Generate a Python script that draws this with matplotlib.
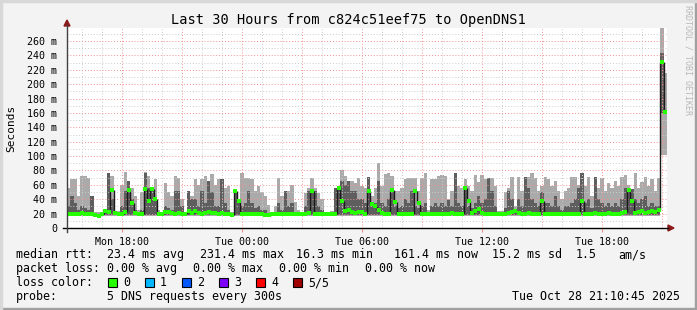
import numpy as np
import matplotlib
matplotlib.use('Agg')
import matplotlib.pyplot as plt
from matplotlib.patches import Rectangle, Polygon
from matplotlib.lines import Line2D

# ---- data (ms), 10 minute bins, first bin starts Mon ~15:14 ----
t0 = 15.235          # hours since Mon 00:00 at left edge
step_h = 1.0 / 6     # 10 minutes

smoke_hi = [55, 68, 68, 45, 72, 72, 70, 45, 22, 22, 22, 25, 75, 72, 22, 24, 60, 78, 65, 55,
            45, 25, 50, 78, 72, 55, 68, 25, 22, 62, 50, 45, 72, 70, 40, 22, 50, 45, 68, 60,
            68, 72, 62, 75, 60,
            68, 68, 55, 58, 22, 52, 40, 76, 70, 70, 68, 52, 58, 50, 45, 32, 22, 30, 69, 45,
            52, 52, 60, 36, 25, 22, 48, 55, 69, 55, 48, 40, 22, 22, 24, 55, 55, 80, 72, 66,
            65, 62, 70, 58, 55,
            70, 45, 55, 90, 58, 75, 76, 72, 52, 52, 55, 68, 70, 70, 70, 52, 70, 76, 25, 68,
            68, 73, 74, 72, 40, 52, 76, 58, 55, 68, 58, 52, 74, 64, 74, 68, 70, 69, 58, 24,
            24, 50, 55, 71, 30,
            71, 52, 60, 71, 76, 69, 52, 58, 71, 68, 58, 65, 52, 40, 52, 55, 71, 71, 60, 76,
            58, 71, 45, 71, 55, 69, 52, 62, 55, 66, 58, 71, 74, 60, 52, 76, 55, 64, 71, 58,
            68, 52, 70, 300, 215]

smoke_mid = [30, 45, 35, 25, 30, 28, 25, 44, 20, 20, 20, 22, 76, 40, 20, 20, 30, 52, 65, 40,
             25, 20, 25, 77, 55, 54, 40, 20, 20, 30, 28, 25, 52, 52, 30, 20, 52, 40, 40, 30,
             52, 35, 66, 50, 30,
             30, 68, 35, 25, 20, 52, 38, 30, 35, 52, 35, 28, 30, 25, 25, 20, 20, 20, 35, 25,
             52, 30, 35, 22, 20, 20, 30, 52, 52, 52, 30, 25, 20, 20, 20, 55, 55, 66, 60, 66,
             52, 52, 40, 40, 35,
             71, 30, 35, 66, 35, 30, 40, 52, 30, 28, 30, 40, 35, 52, 30, 28, 30, 35, 20, 30,
             35, 30, 35, 30, 39, 30, 76, 35, 30, 58, 30, 28, 35, 45, 35, 40, 69, 52, 30, 20,
             20, 28, 52, 40, 22,
             40, 30, 71, 55, 40, 35, 30, 50, 35, 35, 30, 45, 30, 25, 30, 30, 35, 40, 55, 76,
             35, 40, 28, 71, 40, 35, 30, 35, 30, 35, 30, 40, 55, 55, 54, 40, 35, 40, 45, 30,
             35, 30, 30, 243, 101]

median = [20, 19, 20, 20, 21, 20, 19, 20, 18, 17, 19, 24, 22, 53, 21, 19, 20, 22, 53, 35,
          21, 20, 20, 54, 37, 54, 41, 20, 20, 22, 22, 21, 20, 21, 20, 20, 24, 21, 23, 21,
          20, 21, 22, 21, 21,
          20, 21, 20, 19, 18, 52, 37, 20, 19, 20, 19, 20, 20, 19, 18, 18, 19, 20, 20, 19,
          20, 20, 20, 20, 19, 20, 20, 21, 52, 20, 19, 20, 20, 20, 19, 20, 55, 37, 23, 25,
          22, 21, 22, 22, 20,
          52, 33, 31, 25, 21, 20, 20, 53, 36, 20, 19, 20, 19, 20, 52, 35, 20, 20, 19, 20,
          20, 20, 20, 20, 20, 21, 20, 20, 20, 55, 37, 21, 23, 27, 21, 20, 19, 19, 20, 20,
          19, 20, 21, 22, 23,
          21, 20, 20, 21, 20, 20, 20, 37, 20, 19, 20, 19, 20, 20, 20, 20, 19, 20, 20, 38,
          20, 20, 20, 21, 20, 20, 20, 21, 20, 20, 20, 21, 22, 53, 38, 21, 22, 23, 21, 22,
          23, 22, 25, 231, 161.4]

smoke_lo = [16] * 178 + [101, 101]
smoke_mid_lo = [18] * 178 + [160, 101]

y_ticks = [0, 20, 40, 60, 80, 100, 120, 140, 160, 180, 200, 220, 240, 260]
x_ticks = [18, 24, 30, 36, 42]
x_labels = ['Mon 18:00', 'Tue 00:00', 'Tue 06:00', 'Tue 12:00', 'Tue 18:00']

loss_labels = ['0', '1', '2', '3', '4', '5/5']
loss_colors = ['#26ff00', '#00b8ff', '#0059ff', '#7e00ff', '#ff0000', '#a10000']

W, H = 697, 310
fig = plt.figure(figsize=(W / 100, H / 100), dpi=100)
fig.patch.set_facecolor('#f3f3f3')
mono = 'DejaVu Sans Mono'


def fx(px):
    return px / W


def fy(py):
    return 1 - py / H


ax = fig.add_axes([fx(67), fy(228), 600 / W, 200 / H])
ax.set_facecolor('white')
ax.set_xlim(t0, t0 + 30)
ax.set_ylim(0, 278.1)
for s in ax.spines.values():
    s.set_visible(False)

edges = t0 + np.arange(len(smoke_hi) + 1) * step_h


def band(lo, hi, color, z):
    lo = np.append(lo, lo[-1])
    hi = np.append(hi, hi[-1])
    ax.fill_between(edges, lo, hi, step='post', color=color, lw=0, zorder=z)


band(smoke_lo, smoke_hi, '#aaaaaa', 2)
band(smoke_mid_lo, smoke_mid, '#5e5e5e', 3)

# grid (rrdtool draws it over the smoke)
for h in range(16, 46):
    c = '#f29090' if h % 3 == 0 else '#cccccc'
    ax.axvline(h, color=c, lw=0.7, ls=(0, (1, 2)), zorder=4)
for v in range(10, 280, 10):
    c = '#f29090' if v % 20 == 0 else '#cccccc'
    ax.axhline(v, color=c, lw=0.7, ls=(0, (1, 2)), zorder=4)

# median rtt: green flats, dark jumps, green dots
med = np.array(median)
ax.vlines(edges[1:-1], np.minimum(med[:-1], med[1:]), np.maximum(med[:-1], med[1:]),
          color='#1a1a1a', lw=1.0, zorder=5)
ax.hlines(med, edges[:-1], edges[1:], color=loss_colors[0], lw=1.6, zorder=6)
ax.plot(edges[:-1] + step_h / 2, med, 's', color=loss_colors[0], ms=2.2, mew=0, zorder=7)

ax.set_yticks(y_ticks)
ax.set_yticklabels(['0'] + ['%d m' % v for v in y_ticks[1:]], family=mono, fontsize=7.2)
ax.set_xticks(x_ticks)
ax.set_xticklabels(x_labels, family=mono, fontsize=7.2)
ax.tick_params(axis='y', length=0, pad=7)
ax.tick_params(axis='x', length=3, pad=3.5, color='#f29090')
ax.set_ylabel('Seconds', family=mono, fontsize=8, labelpad=8)

# axes lines and arrows
fig.add_artist(Line2D([fx(63), fx(668)], [fy(228), fy(228)], color='black', lw=1))
fig.add_artist(Line2D([fx(67), fx(67)], [fy(232), fy(25)], color='#404040', lw=1))
fig.add_artist(Polygon([[fx(64), fy(26)], [fx(70), fy(26)], [fx(67), fy(20)]],
                       closed=True, color='#8b1a1a', transform=fig.transFigure))
fig.add_artist(Polygon([[fx(668), fy(225)], [fx(668), fy(231)], [fx(674), fy(228)]],
                       closed=True, color='#8b1a1a', transform=fig.transFigure))

# title and side text
fig.text(0.5, fy(24), 'Last 30 Hours from c824c51eef75 to OpenDNS1', family=mono,
         fontsize=9.8, ha='center', va='baseline')
fig.text(fx(688), fy(60), 'RRDTOOL / TOBI OETIKER', family=mono, fontsize=6,
         color='#b8b8b8', rotation=-90, ha='center', va='center')

# legend rows
lfs = 8.37
row1 = [(16, 'median rtt:'), (107, '23.4 ms avg'), (200, '231.4 ms max'), (296, '16.3 ms min'),
        (394, '161.4 ms now'), (492, '15.2 ms sd'), (576, '1.5'), (618, 'am/s')]
row2 = [(16, 'packet loss:'), (107, '0.00 % avg'), (193, '0.00 % max'), (279, '0.00 % min'),
        (365, '0.00 % now')]
for x, s in row1:
    fig.text(fx(x), fy(258), s, family=mono, fontsize=lfs, va='baseline')
for x, s in row2:
    fig.text(fx(x), fy(272), s, family=mono, fontsize=lfs, va='baseline')
fig.text(fx(16), fy(286), 'loss color:', family=mono, fontsize=lfs, va='baseline')
for i, (lab, col) in enumerate(zip(loss_labels, loss_colors)):
    bx = 108 + 37 * i
    fig.add_artist(Rectangle((fx(bx), fy(286.5)), 8.5 / W, 8.5 / H, facecolor=col,
                             edgecolor='black', lw=0.8, transform=fig.transFigure))
    fig.text(fx(bx + 15), fy(286), lab, family=mono, fontsize=lfs, va='baseline')
fig.text(fx(16), fy(300), 'probe:', family=mono, fontsize=lfs, va='baseline')
fig.text(fx(107), fy(300), '5 DNS requests every 300s', family=mono, fontsize=lfs, va='baseline')
fig.text(fx(680), fy(300), 'Tue Oct 28 21:10:45 2025', family=mono, fontsize=lfs,
         va='baseline', ha='right')

# picture frame
fig.add_artist(Rectangle((0, 0), 1, 2 / H, color='#a0a0a0', transform=fig.transFigure))
fig.add_artist(Rectangle((1 - 2 / W, 0), 2 / W, 1, color='#a0a0a0', transform=fig.transFigure))
fig.add_artist(Rectangle((0, 1 - 2 / H), 1, 2 / H, color='#d8d8d8', transform=fig.transFigure))
fig.add_artist(Rectangle((0, 0), 2 / W, 1, color='#d8d8d8', transform=fig.transFigure))

fig.savefig('out.png', dpi=100, facecolor=fig.get_facecolor())
